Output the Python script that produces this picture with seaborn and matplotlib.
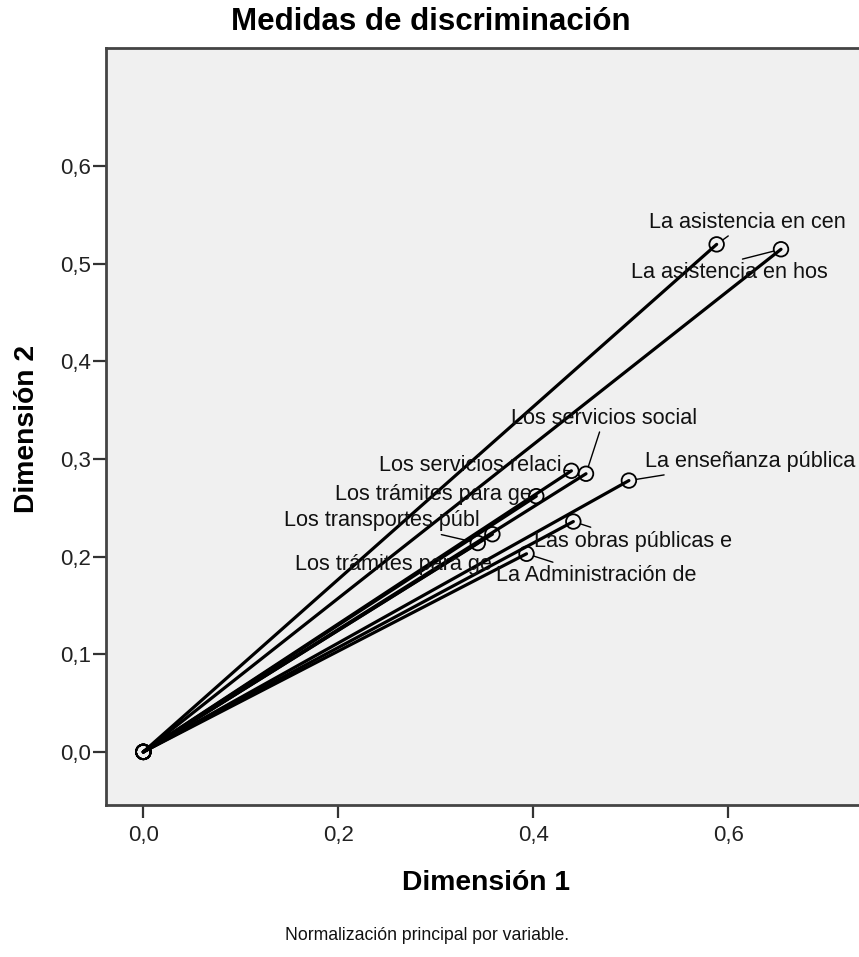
import matplotlib
matplotlib.use("Agg")
import matplotlib.pyplot as plt
from matplotlib.ticker import FixedLocator, FuncFormatter
import numpy as np
import pandas as pd
import seaborn as sns

# Discrimination measures: one vector per variable, from the origin
variables = [
    "La asistencia en cen",
    "La asistencia en hos",
    "Los servicios social",
    "Los servicios relaci",
    "Los trámites para ge",
    "La enseñanza pública",
    "Los transportes públ",
    "Las obras públicas e",
    "Los trámites para ge ",
    "La Administración de",
]
dim1 = [0.588, 0.654, 0.454, 0.439, 0.403, 0.498, 0.343, 0.441, 0.358, 0.393]
dim2 = [0.520, 0.515, 0.285, 0.288, 0.262, 0.278, 0.214, 0.236, 0.223, 0.203]

x_ticks = [0.0, 0.2, 0.4, 0.6]
y_ticks = [0.0, 0.1, 0.2, 0.3, 0.4, 0.5, 0.6]

# label offsets (points) from each vector end, and where the leader leaves the label
label_offsets = [
    (22, 16), (-37, -17), (13, 40), (-73, 4), (-74, 1),
    (87, 14), (-69, 16), (43, -14), (-71, -22), (50, -16),
]
leader_anchor = [
    None, (0.5, 1.0), None, None, None,
    None, None, None, "off", None,
]

sns.set_style("white")
plt.rcParams["font.family"] = ["Liberation Sans", "DejaVu Sans"]

W, H = 859, 957
fig = plt.figure(figsize=(W / 100, H / 100), dpi=100)
ax = fig.add_axes([106 / W, 1 - 805 / H, (W - 106) / W, (805 - 48) / H])
ax.set_facecolor("#F0F0F0")

# long table: origin + end point for each variable
rows = []
for name, x, y in zip(variables, dim1, dim2):
    rows.append({"var": name, "d1": 0.0, "d2": 0.0})
    rows.append({"var": name, "d1": x, "d2": y})
df = pd.DataFrame(rows)

sns.lineplot(data=df, x="d1", y="d2", units="var", estimator=None, sort=False,
             color="black", lw=2.3, ax=ax, legend=False)
sns.scatterplot(data=df, x="d1", y="d2", marker="o", s=110, facecolors="none",
                edgecolor="black", linewidth=1.3, ax=ax, legend=False, zorder=3)

for name, x, y, off, anchor in zip(variables, dim1, dim2, label_offsets, leader_anchor):
    arrow = None
    if anchor != "off":
        arrow = dict(arrowstyle="-", color="black", lw=1.0, shrinkA=0, shrinkB=5.5)
        if anchor is not None:
            arrow["relpos"] = anchor
    ax.annotate(name.strip(), xy=(x, y), xytext=off, textcoords="offset points",
                ha="center", va="center", fontsize=15.6, color="#111111",
                arrowprops=arrow, zorder=4)

ax.set_xlim(-0.0383, 0.734)
ax.set_ylim(-0.0544, 0.7212)
ax.xaxis.set_major_locator(FixedLocator(x_ticks))
ax.yaxis.set_major_locator(FixedLocator(y_ticks))
fmt = FuncFormatter(lambda v, p: f"{v:.1f}".replace(".", ","))
ax.xaxis.set_major_formatter(fmt)
ax.yaxis.set_major_formatter(fmt)
ax.set_xlabel("")
ax.set_ylabel("")
ax.tick_params(axis="both", direction="out", length=9.4, width=1.6,
               color="#333333", labelsize=16, labelcolor="#222222",
               bottom=True, left=True, top=False, right=False)
ax.tick_params(axis="x", pad=5)
ax.tick_params(axis="y", pad=1.5)

for side in ["left", "bottom", "top"]:
    ax.spines[side].set_color("#444444")
    ax.spines[side].set_linewidth(2)
ax.spines["right"].set_visible(False)

fig.text(431 / W, 1 - 22 / H, "Medidas de discriminación", ha="center", va="center",
         fontsize=22.5, fontweight="bold", color="black")
fig.text(486 / W, 1 - 883 / H, "Dimensión 1", ha="center", va="center",
         fontsize=20.3, fontweight="bold", color="black")
fig.text(27 / W, 1 - 429 / H, "Dimensión 2", ha="center", va="center",
         rotation=90, fontsize=20.3, fontweight="bold", color="black")
fig.text(427 / W, 1 - 935 / H, "Normalización principal por variable.",
         ha="center", va="center", fontsize=12.7, color="#111111")

fig.savefig("out.png", dpi=100, facecolor="white")
